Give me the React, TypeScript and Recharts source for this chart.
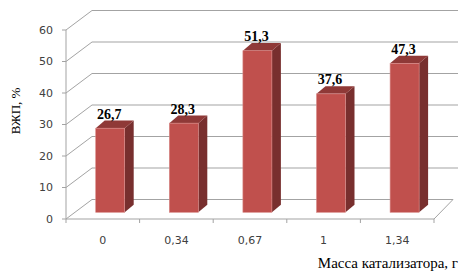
import { Bar, BarChart, CartesianGrid, Label, LabelList, XAxis, YAxis } from "recharts";

const categories = ["0", "0,34", "0,67", "1", "1,34"];
const vzhpValues = [26.7, 28.3, 51.3, 37.6, 47.3];
const yTicks = [0, 10, 20, 30, 40, 50, 60];

const data = categories.map((mass, i) => ({ mass, vzhp: vzhpValues[i] }));

const W = 460;
const H = 273;

// pseudo-3D geometry (Excel style walls and boxes)
const WALL_DX_LEFT = 26;
const WALL_DX_RIGHT = 19;
const WALL_DY = 19.5;
const BAR_SHIFT = 7.7;
const BAR_LIFT = 6.7;
const BAR_DX = 9;
const BAR_DY = 7.6;

const GRID = "#a3a3a3";
const FRONT = "#c0504d";
const SIDE = "#782f2e";
const TOP = "#8f3937";

function GridLine(props: any) {
  const { x1, y1, x2, index } = props;
  const backX = (x: number) =>
    x1 + WALL_DX_LEFT + ((x - x1) * (x2 + WALL_DX_RIGHT - x1 - WALL_DX_LEFT)) / (x2 - x1);
  const by = y1 - WALL_DY;
  const bottom = props.y + props.height;
  const isFloor = Number.isFinite(bottom) ? Math.abs(y1 - bottom) < 1 : index === 0;
  const bl = backX(x1);
  const br = backX(x2);

  if (!isFloor) {
    return (
      <g key={props.key ?? index}>
        <path d={`M${x1},${y1}L${bl},${by}L${W - 2},${by}`} stroke={GRID} fill="none" />
      </g>
    );
  }

  const step = (x2 - x1) / categories.length;
  const ticks = [];
  for (let i = 0; i <= categories.length; i++) {
    const tx = x1 + i * step;
    ticks.push(<line key={i} x1={tx} y1={y1} x2={tx} y2={y1 + 4} stroke={GRID} />);
  }
  return (
    <g key={props.key ?? index}>
      <path d={`M${x1},${y1}L${bl},${by}L${br},${by}L${x2},${y1}`} stroke={GRID} fill="none" />
      {ticks}
    </g>
  );
}

function Box(props: any) {
  const { x, y, width, height } = props;
  const fx = x + BAR_SHIFT;
  const fy = y - BAR_LIFT;
  const r = fx + width;
  return (
    <g>
      <polygon
        points={`${r},${fy} ${r + BAR_DX},${fy - BAR_DY} ${r + BAR_DX},${fy + height - BAR_DY} ${r},${fy + height}`}
        fill={SIDE}
      />
      <polygon
        points={`${fx},${fy} ${fx + BAR_DX},${fy - BAR_DY} ${r + BAR_DX},${fy - BAR_DY} ${r},${fy}`}
        fill={TOP}
      />
      <rect x={fx} y={fy} width={width} height={height} fill={FRONT} stroke="#d98b89" strokeWidth={0.6} />
    </g>
  );
}

function ValueLabel(props: any) {
  const { x, y, width, value } = props;
  return (
    <text
      x={x + BAR_SHIFT + width / 2 - 1}
      y={y - BAR_LIFT - BAR_DY - 2}
      textAnchor="middle"
      fontFamily="'Liberation Serif', serif"
      fontWeight="bold"
      fontSize={14}
      fill="#000"
    >
      {String(value).replace(".", ",")}
    </text>
  );
}

export default function App() {
  return (
    <div style={{ position: "absolute", left: 0, top: 0, width: W, height: H, background: "#fff" }}>
      <BarChart width={W} height={H} data={data} margin={{ top: 30, right: 26, left: 26, bottom: 24 }}>
        <CartesianGrid vertical={false} horizontal={GridLine} />
        <XAxis
          dataKey="mass"
          height={30}
          axisLine={{ stroke: GRID }}
          tickLine={false}
          tickSize={0}
          tickMargin={17}
          tick={{ fontFamily: "'DejaVu Sans'", fontSize: 11, fill: "#404040" }}
        >
          <Label
            content={() => (
              <text x={458} y={268} textAnchor="end" fontFamily="'Liberation Serif', serif" fontSize={15} fill="#000">
                Масса катализатора, г
              </text>
            )}
          />
        </XAxis>
        <YAxis
          width={40}
          domain={[0, 60]}
          ticks={yTicks}
          interval={0}
          axisLine={{ stroke: GRID }}
          tickLine={{ stroke: GRID }}
          tickSize={4}
          tickMargin={9}
          tick={{ fontFamily: "'DejaVu Sans'", fontSize: 11, fill: "#404040" }}
        >
          <Label
            content={() => (
              <text
                x={20}
                y={111}
                transform="rotate(-90 20 111)"
                textAnchor="middle"
                fontFamily="'Liberation Serif', serif"
                fontSize={13}
                fill="#000"
              >
                ВЖП, %
              </text>
            )}
          />
        </YAxis>
        <Bar dataKey="vzhp" barSize={29} shape={Box} isAnimationActive={false}>
          <LabelList dataKey="vzhp" content={ValueLabel} />
        </Bar>
      </BarChart>
    </div>
  );
}
